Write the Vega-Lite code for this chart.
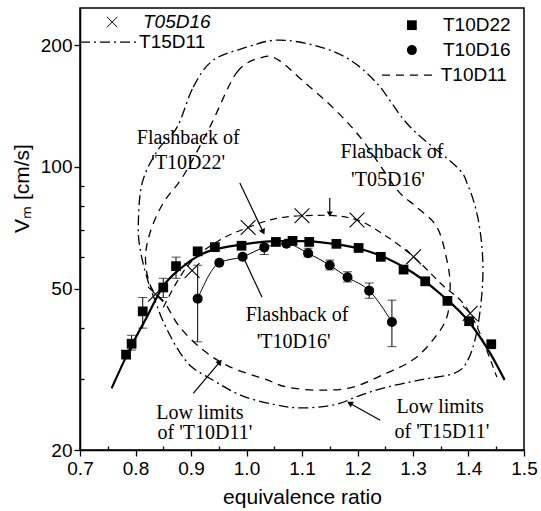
{
  "$schema": "https://vega.github.io/schema/vega-lite/v6.json",
  "width": 444,
  "height": 442,
  "autosize": {"type": "none"},
  "padding": {"left": 80, "top": 8, "right": 17, "bottom": 61},
  "background": "white",
  "config": {
    "view": {"stroke": "black", "strokeWidth": 1.5},
    "axis": {
      "grid": false,
      "domainColor": "black",
      "domainWidth": 1.5,
      "tickColor": "black",
      "tickWidth": 1.3,
      "labelColor": "black",
      "labelFont": "Liberation Sans",
      "labelFontSize": 19,
      "titleColor": "black",
      "titleFont": "Liberation Sans",
      "titleFontSize": 21,
      "titleFontWeight": "normal"
    }
  },
  "datasets": {
    "squares": [
      {"phi": 0.783, "v": 34.4},
      {"phi": 0.793, "v": 36.6, "lo": 35.3, "hi": 38.4},
      {"phi": 0.813, "v": 44.0, "lo": 40.0, "hi": 47.6},
      {"phi": 0.850, "v": 50.4, "lo": 47.6, "hi": 53.1},
      {"phi": 0.873, "v": 56.9, "lo": 53.1, "hi": 59.9},
      {"phi": 0.912, "v": 61.9},
      {"phi": 0.943, "v": 63.4},
      {"phi": 0.991, "v": 63.9},
      {"phi": 1.053, "v": 65.3},
      {"phi": 1.083, "v": 65.7},
      {"phi": 1.113, "v": 65.3},
      {"phi": 1.162, "v": 64.6},
      {"phi": 1.202, "v": 63.1},
      {"phi": 1.242, "v": 60.0},
      {"phi": 1.283, "v": 55.8},
      {"phi": 1.322, "v": 52.2},
      {"phi": 1.362, "v": 46.7},
      {"phi": 1.401, "v": 41.6},
      {"phi": 1.441, "v": 36.5}
    ],
    "circles": [
      {"phi": 0.912, "v": 47.3, "lo": 37.0, "hi": 57.2},
      {"phi": 0.951, "v": 58.0},
      {"phi": 0.993, "v": 60.0},
      {"phi": 1.032, "v": 63.3, "lo": 60.8, "hi": 64.4},
      {"phi": 1.072, "v": 64.6},
      {"phi": 1.111, "v": 61.2, "lo": 60.0, "hi": 63.0},
      {"phi": 1.150, "v": 57.2, "lo": 55.7, "hi": 58.9},
      {"phi": 1.182, "v": 53.4, "lo": 52.0, "hi": 55.1},
      {"phi": 1.221, "v": 49.5, "lo": 47.4, "hi": 51.7},
      {"phi": 1.262, "v": 41.4, "lo": 36.0, "hi": 46.9}
    ],
    "crosses": [
      {"phi": 0.836, "v": 48.5},
      {"phi": 0.902, "v": 55.5},
      {"phi": 1.003, "v": 70.9},
      {"phi": 1.100, "v": 75.8},
      {"phi": 1.199, "v": 74.0},
      {"phi": 1.301, "v": 60.0},
      {"phi": 1.403, "v": 43.5}
    ],
    "sqfit": [
      {"phi": 0.757, "v": 28.4},
      {"phi": 0.78, "v": 33.3},
      {"phi": 0.80, "v": 37.8},
      {"phi": 0.82, "v": 42.5},
      {"phi": 0.85, "v": 50.8},
      {"phi": 0.88, "v": 56.0},
      {"phi": 0.92, "v": 61.0},
      {"phi": 0.96, "v": 63.3},
      {"phi": 1.00, "v": 64.6},
      {"phi": 1.05, "v": 65.6},
      {"phi": 1.10, "v": 65.6},
      {"phi": 1.15, "v": 64.8},
      {"phi": 1.20, "v": 63.0},
      {"phi": 1.25, "v": 59.8},
      {"phi": 1.30, "v": 54.8},
      {"phi": 1.35, "v": 48.5},
      {"phi": 1.40, "v": 41.6},
      {"phi": 1.44, "v": 34.5},
      {"phi": 1.465, "v": 29.8}
    ],
    "xfit": [
      {"phi": 0.85, "v": 45.0},
      {"phi": 0.886, "v": 55.1},
      {"phi": 0.952, "v": 66.0},
      {"phi": 1.003, "v": 70.9},
      {"phi": 1.042, "v": 74.0},
      {"phi": 1.099, "v": 75.8},
      {"phi": 1.144, "v": 76.0},
      {"phi": 1.199, "v": 74.0},
      {"phi": 1.253, "v": 67.3},
      {"phi": 1.301, "v": 60.0},
      {"phi": 1.349, "v": 51.7},
      {"phi": 1.403, "v": 43.5},
      {"phi": 1.451, "v": 30.3}
    ],
    "loops": [
      {"curve": "T15D11", "i": 1, "phi": 0.875, "v": 125.5},
      {"curve": "T15D11", "i": 2, "phi": 0.904, "v": 157.5},
      {"curve": "T15D11", "i": 3, "phi": 0.940, "v": 183.6},
      {"curve": "T15D11", "i": 4, "phi": 1.001, "v": 197.7},
      {"curve": "T15D11", "i": 5, "phi": 1.055, "v": 205.8},
      {"curve": "T15D11", "i": 6, "phi": 1.120, "v": 200.0},
      {"curve": "T15D11", "i": 7, "phi": 1.181, "v": 185.8},
      {"curve": "T15D11", "i": 8, "phi": 1.235, "v": 161.0},
      {"curve": "T15D11", "i": 9, "phi": 1.295, "v": 125.5},
      {"curve": "T15D11", "i": 10, "phi": 1.379, "v": 100.0},
      {"curve": "T15D11", "i": 11, "phi": 1.399, "v": 90.0},
      {"curve": "T15D11", "i": 12, "phi": 1.414, "v": 78.0},
      {"curve": "T15D11", "i": 13, "phi": 1.423, "v": 66.0},
      {"curve": "T15D11", "i": 14, "phi": 1.426, "v": 55.7},
      {"curve": "T15D11", "i": 15, "phi": 1.423, "v": 46.9},
      {"curve": "T15D11", "i": 16, "phi": 1.414, "v": 38.6},
      {"curve": "T15D11", "i": 17, "phi": 1.399, "v": 33.4},
      {"curve": "T15D11", "i": 18, "phi": 1.376, "v": 31.0},
      {"curve": "T15D11", "i": 19, "phi": 1.313, "v": 29.8},
      {"curve": "T15D11", "i": 20, "phi": 1.253, "v": 28.6},
      {"curve": "T15D11", "i": 21, "phi": 1.205, "v": 27.3},
      {"curve": "T15D11", "i": 22, "phi": 1.160, "v": 25.9},
      {"curve": "T15D11", "i": 23, "phi": 1.100, "v": 25.4},
      {"curve": "T15D11", "i": 24, "phi": 1.050, "v": 25.9},
      {"curve": "T15D11", "i": 25, "phi": 0.990, "v": 27.3},
      {"curve": "T15D11", "i": 26, "phi": 0.935, "v": 30.0},
      {"curve": "T15D11", "i": 27, "phi": 0.900, "v": 32.2},
      {"curve": "T15D11", "i": 28, "phi": 0.875, "v": 35.7},
      {"curve": "T15D11", "i": 29, "phi": 0.850, "v": 41.5},
      {"curve": "T15D11", "i": 30, "phi": 0.836, "v": 46.5},
      {"curve": "T15D11", "i": 31, "phi": 0.823, "v": 52.0},
      {"curve": "T15D11", "i": 32, "phi": 0.810, "v": 61.0},
      {"curve": "T15D11", "i": 33, "phi": 0.805, "v": 71.1},
      {"curve": "T15D11", "i": 34, "phi": 0.812, "v": 91.3},
      {"curve": "T15D11", "i": 35, "phi": 0.840, "v": 110.0},
      {"curve": "T10D11", "i": 1, "phi": 0.934, "v": 125.5},
      {"curve": "T10D11", "i": 2, "phi": 0.983, "v": 171.5},
      {"curve": "T10D11", "i": 3, "phi": 1.030, "v": 186.8},
      {"curve": "T10D11", "i": 4, "phi": 1.058, "v": 183.6},
      {"curve": "T10D11", "i": 5, "phi": 1.100, "v": 163.9},
      {"curve": "T10D11", "i": 6, "phi": 1.160, "v": 138.3},
      {"curve": "T10D11", "i": 7, "phi": 1.210, "v": 116.0},
      {"curve": "T10D11", "i": 8, "phi": 1.271, "v": 88.0},
      {"curve": "T10D11", "i": 9, "phi": 1.305, "v": 80.0},
      {"curve": "T10D11", "i": 10, "phi": 1.343, "v": 71.1},
      {"curve": "T10D11", "i": 11, "phi": 1.361, "v": 58.9},
      {"curve": "T10D11", "i": 12, "phi": 1.367, "v": 50.5},
      {"curve": "T10D11", "i": 13, "phi": 1.361, "v": 42.6},
      {"curve": "T10D11", "i": 14, "phi": 1.336, "v": 37.4},
      {"curve": "T10D11", "i": 15, "phi": 1.300, "v": 33.4},
      {"curve": "T10D11", "i": 16, "phi": 1.253, "v": 31.0},
      {"curve": "T10D11", "i": 17, "phi": 1.192, "v": 28.6},
      {"curve": "T10D11", "i": 18, "phi": 1.132, "v": 28.1},
      {"curve": "T10D11", "i": 19, "phi": 1.073, "v": 28.6},
      {"curve": "T10D11", "i": 20, "phi": 1.037, "v": 29.8},
      {"curve": "T10D11", "i": 21, "phi": 0.970, "v": 32.1},
      {"curve": "T10D11", "i": 22, "phi": 0.922, "v": 35.3},
      {"curve": "T10D11", "i": 23, "phi": 0.880, "v": 40.2},
      {"curve": "T10D11", "i": 24, "phi": 0.853, "v": 46.1},
      {"curve": "T10D11", "i": 25, "phi": 0.828, "v": 50.5},
      {"curve": "T10D11", "i": 26, "phi": 0.818, "v": 58.9},
      {"curve": "T10D11", "i": 27, "phi": 0.826, "v": 68.7},
      {"curve": "T10D11", "i": 28, "phi": 0.850, "v": 81.5},
      {"curve": "T10D11", "i": 29, "phi": 0.886, "v": 95.0}
    ],
    "notes": [
      {"phi": 0.895, "v": 117.9, "text": "Flashback of"},
      {"phi": 0.895, "v": 102.2, "text": "'T10D22'"},
      {"phi": 1.262, "v": 108.8, "text": "Flashback of"},
      {"phi": 1.255, "v": 92.8, "text": "'T05D16'"},
      {"phi": 1.091, "v": 43.1, "text": "Flashback of"},
      {"phi": 1.085, "v": 37.0, "text": "'T10D16'"},
      {"phi": 0.916, "v": 24.7, "text": "Low limits"},
      {"phi": 0.925, "v": 22.0, "text": "of 'T10D11'"},
      {"phi": 1.349, "v": 25.5, "text": "Low limits"},
      {"phi": 1.352, "v": 22.2, "text": "of 'T15D11'"}
    ],
    "arrows": [
      {"id": "a", "phi": 0.988, "v": 91.3, "phi2": 1.030, "v2": 69.1},
      {"id": "b", "phi": 1.150, "v": 83.8, "phi2": 1.150, "v2": 76.5},
      {"id": "c", "phi": 1.028, "v": 47.7, "phi2": 0.994, "v2": 59.9},
      {"id": "d", "phi": 0.904, "v": 27.6, "phi2": 0.952, "v2": 33.0},
      {"id": "e", "phi": 1.241, "v": 23.7, "phi2": 1.186, "v2": 26.1}
    ],
    "legtext": [
      {"phi": 0.8135, "v": 228, "text": "T05D16", "italic": "yes"},
      {"phi": 0.8065, "v": 203.4, "text": "T15D11", "italic": "no"},
      {"phi": 1.354, "v": 224, "text": "T10D22", "italic": "no"},
      {"phi": 1.354, "v": 194.4, "text": "T10D16", "italic": "no"},
      {"phi": 1.350, "v": 168.6, "text": "T10D11", "italic": "no"}
    ],
    "legline": [
      {"curve": "T15D11", "phi": 0.70, "phi2": 0.803, "v": 203.4},
      {"curve": "T10D11", "phi": 1.244, "phi2": 1.343, "v": 168.6}
    ],
    "legmark": [
      {"series": "T05D16", "phi": 0.758, "v": 228},
      {"series": "T10D22", "phi": 1.298, "v": 224},
      {"series": "T10D16", "phi": 1.298, "v": 194.4}
    ]
  },
  "encoding": {
    "x": {
      "field": "phi",
      "type": "quantitative",
      "scale": {"domain": [0.7, 1.5], "nice": false, "zero": false},
      "axis": {
        "title": "equivalence ratio",
        "values": [0.7, 0.75, 0.8, 0.85, 0.9, 0.95, 1.0, 1.05, 1.1, 1.15, 1.2, 1.25, 1.3, 1.35, 1.4, 1.45, 1.5],
        "labelExpr": "round(datum.value*100) % 10 == 0 ? format(datum.value, '.1f') : ''",
        "tickSize": {"condition": {"test": "round(datum.value*100) % 10 == 0", "value": 6}, "value": -4},
        "labelPadding": 3,
        "labelFlush": false,
        "titleY": 47,
        "titleBaseline": "middle"
      }
    },
    "y": {
      "field": "v",
      "type": "quantitative",
      "scale": {"type": "log", "domain": [20, 247], "nice": false, "zero": false},
      "axis": {
        "title": "Vₘ [cm/s]",
        "values": [20, 30, 40, 50, 60, 70, 80, 90, 100, 200],
        "labelExpr": "indexof([20, 50, 100, 200], datum.value) >= 0 ? datum.value : ''",
        "tickSize": {"condition": {"test": "indexof([20, 50, 100, 200], datum.value) >= 0", "value": 6}, "value": -4},
        "labelPadding": 2,
        "labelFlush": false,
        "titleX": -58,
        "titleY": 180,
        "titleAlign": "center",
        "titleBaseline": "middle"
      }
    }
  },
  "layer": [
    {
      "data": {"name": "loops"},
      "transform": [{"filter": "datum.curve == 'T15D11'"}],
      "mark": {"type": "line", "interpolate": "cardinal-closed", "color": "black", "strokeWidth": 1.3, "strokeDash": [10, 4, 2, 4]},
      "encoding": {"order": {"field": "i", "type": "quantitative"}}
    },
    {
      "data": {"name": "loops"},
      "transform": [{"filter": "datum.curve == 'T10D11'"}],
      "mark": {"type": "line", "interpolate": "cardinal-closed", "color": "black", "strokeWidth": 1.3, "strokeDash": [8, 6]},
      "encoding": {"order": {"field": "i", "type": "quantitative"}}
    },
    {
      "data": {"name": "xfit"},
      "mark": {"type": "line", "interpolate": "monotone", "color": "black", "strokeWidth": 1.2, "strokeDash": [7, 5]},
      "encoding": {}
    },
    {
      "data": {"name": "sqfit"},
      "mark": {"type": "line", "interpolate": "monotone", "color": "black", "strokeWidth": 2.2},
      "encoding": {}
    },
    {
      "data": {"name": "circles"},
      "mark": {"type": "line", "interpolate": "monotone", "color": "black", "strokeWidth": 1},
      "encoding": {}
    },
    {
      "data": {"name": "squares"},
      "transform": [{"filter": "isValid(datum.lo)"}],
      "mark": {"type": "rule", "color": "black", "strokeWidth": 1},
      "encoding": {"y": {"field": "lo", "type": "quantitative"}, "y2": {"field": "hi"}}
    },
    {
      "data": {"name": "circles"},
      "transform": [{"filter": "isValid(datum.lo)"}],
      "mark": {"type": "rule", "color": "black", "strokeWidth": 1},
      "encoding": {"y": {"field": "lo", "type": "quantitative"}, "y2": {"field": "hi"}}
    },
    {
      "data": {"name": "squares"},
      "transform": [{"filter": "isValid(datum.lo)"}, {"fold": ["lo", "hi"], "as": ["end", "ev"]}],
      "mark": {"type": "tick", "orient": "horizontal", "color": "black", "size": 9, "thickness": 1},
      "encoding": {"y": {"field": "ev", "type": "quantitative"}}
    },
    {
      "data": {"name": "circles"},
      "transform": [{"filter": "isValid(datum.lo)"}, {"fold": ["lo", "hi"], "as": ["end", "ev"]}],
      "mark": {"type": "tick", "orient": "horizontal", "color": "black", "size": 9, "thickness": 1},
      "encoding": {"y": {"field": "ev", "type": "quantitative"}}
    },
    {
      "data": {"name": "squares"},
      "mark": {"type": "point", "shape": "square", "filled": true, "color": "black", "size": 95, "opacity": 1},
      "encoding": {}
    },
    {
      "data": {"name": "circles"},
      "mark": {"type": "point", "shape": "circle", "filled": true, "color": "black", "size": 100, "opacity": 1},
      "encoding": {}
    },
    {
      "data": {"name": "crosses"},
      "mark": {"type": "point", "shape": "M-1,-1L1,1M1,-1L-1,1", "filled": false, "color": "black", "size": 220, "strokeWidth": 1.1, "opacity": 1},
      "encoding": {}
    },
    {
      "data": {"name": "notes"},
      "mark": {"type": "text", "font": "Liberation Serif", "fontSize": 20, "color": "black", "align": "center", "baseline": "middle"},
      "encoding": {"text": {"field": "text"}}
    },
    {
      "data": {"name": "arrows"},
      "mark": {"type": "rule", "color": "black", "strokeWidth": 1.2},
      "encoding": {"x2": {"field": "phi2"}, "y2": {"field": "v2"}}
    },
    {
      "data": {"name": "arrows"},
      "transform": [{"filter": "datum.id == 'a'"}],
      "mark": {"type": "point", "shape": "triangle-up", "filled": true, "color": "black", "size": 45, "angle": 155, "opacity": 1},
      "encoding": {"x": {"field": "phi2", "type": "quantitative"}, "y": {"field": "v2", "type": "quantitative"}}
    },
    {
      "data": {"name": "arrows"},
      "transform": [{"filter": "datum.id == 'b'"}],
      "mark": {"type": "point", "shape": "triangle-up", "filled": true, "color": "black", "size": 35, "angle": 180, "opacity": 1},
      "encoding": {"x": {"field": "phi2", "type": "quantitative"}, "y": {"field": "v2", "type": "quantitative"}}
    },
    {
      "data": {"name": "arrows"},
      "transform": [{"filter": "datum.id == 'c'"}],
      "mark": {"type": "point", "shape": "triangle-up", "filled": true, "color": "black", "size": 45, "angle": 335, "opacity": 1},
      "encoding": {"x": {"field": "phi2", "type": "quantitative"}, "y": {"field": "v2", "type": "quantitative"}}
    },
    {
      "data": {"name": "arrows"},
      "transform": [{"filter": "datum.id == 'd'"}],
      "mark": {"type": "point", "shape": "triangle-up", "filled": true, "color": "black", "size": 45, "angle": 41, "opacity": 1},
      "encoding": {"x": {"field": "phi2", "type": "quantitative"}, "y": {"field": "v2", "type": "quantitative"}}
    },
    {
      "data": {"name": "arrows"},
      "transform": [{"filter": "datum.id == 'e'"}],
      "mark": {"type": "point", "shape": "triangle-up", "filled": true, "color": "black", "size": 45, "angle": 300, "opacity": 1},
      "encoding": {"x": {"field": "phi2", "type": "quantitative"}, "y": {"field": "v2", "type": "quantitative"}}
    },
    {
      "data": {"name": "legline"},
      "transform": [{"filter": "datum.curve == 'T15D11'"}],
      "mark": {"type": "rule", "color": "black", "strokeWidth": 1.3, "strokeDash": [10, 4, 2, 4]},
      "encoding": {"x2": {"field": "phi2"}}
    },
    {
      "data": {"name": "legline"},
      "transform": [{"filter": "datum.curve == 'T10D11'"}],
      "mark": {"type": "rule", "color": "black", "strokeWidth": 1.3, "strokeDash": [8, 6]},
      "encoding": {"x2": {"field": "phi2"}}
    },
    {
      "data": {"name": "legmark"},
      "transform": [{"filter": "datum.series == 'T05D16'"}],
      "mark": {"type": "point", "shape": "M-1,-1L1,1M1,-1L-1,1", "filled": false, "color": "black", "size": 110, "strokeWidth": 1, "opacity": 1},
      "encoding": {}
    },
    {
      "data": {"name": "legmark"},
      "transform": [{"filter": "datum.series == 'T10D22'"}],
      "mark": {"type": "point", "shape": "square", "filled": true, "color": "black", "size": 95, "opacity": 1},
      "encoding": {}
    },
    {
      "data": {"name": "legmark"},
      "transform": [{"filter": "datum.series == 'T10D16'"}],
      "mark": {"type": "point", "shape": "circle", "filled": true, "color": "black", "size": 100, "opacity": 1},
      "encoding": {}
    },
    {
      "data": {"name": "legtext"},
      "transform": [{"filter": "datum.italic == 'yes'"}],
      "mark": {"type": "text", "font": "Liberation Sans", "fontSize": 19, "fontStyle": "italic", "color": "black", "align": "left", "baseline": "middle"},
      "encoding": {"text": {"field": "text"}}
    },
    {
      "data": {"name": "legtext"},
      "transform": [{"filter": "datum.italic == 'no'"}],
      "mark": {"type": "text", "font": "Liberation Sans", "fontSize": 19, "color": "black", "align": "left", "baseline": "middle"},
      "encoding": {"text": {"field": "text"}}
    }
  ]
}
